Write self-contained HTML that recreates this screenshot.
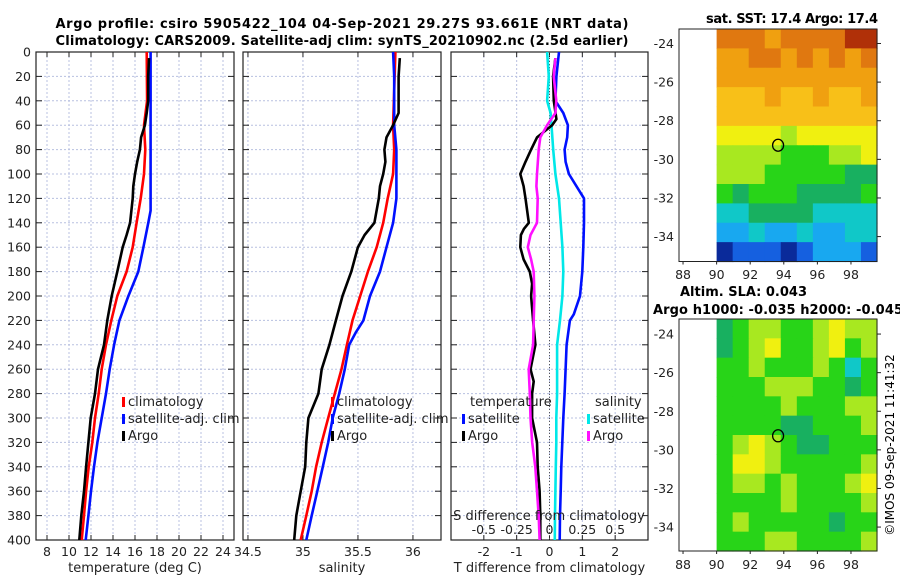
<!DOCTYPE html>
<html><head><meta charset="utf-8"><style>
html,body{margin:0;padding:0;background:#fff;}
svg{display:block;font-family:"DejaVu Sans","Liberation Sans",sans-serif;}
</style></head><body>
<svg id="fig" width="900" height="580" viewBox="0 0 900 580" xmlns="http://www.w3.org/2000/svg">
<text x="342" y="28" font-size="13" font-weight="bold" text-anchor="middle" textLength="573">Argo profile: csiro 5905422_104 04-Sep-2021 29.27S 93.661E (NRT data)</text>
<text x="342" y="45" font-size="13" font-weight="bold" text-anchor="middle" textLength="573">Climatology: CARS2009. Satellite-adj clim: synTS_20210902.nc (2.5d earlier)</text>
<text x="792" y="23" font-size="13" font-weight="bold" text-anchor="middle" textLength="172">sat. SST: 17.4 Argo: 17.4</text>
<text x="680" y="296" font-size="13" font-weight="bold" textLength="127">Altim. SLA: 0.043</text>
<text x="653" y="314" font-size="13" font-weight="bold" textLength="250">Argo h1000: -0.035 h2000: -0.045</text>
<text transform="translate(894,445) rotate(-90)" font-size="12" text-anchor="middle">©IMOS 09-Sep-2021 11:41:32</text>
</svg>
<script>
// ---------- data ----------
const depthTicks=[0,20,40,60,80,100,120,140,160,180,200,220,240,260,280,300,320,340,360,380,400];
const tempTicks=[8,10,12,14,16,18,20,22,24];
const salTicks=[34.5,35,35.5,36];
const salTickLabels=["34.5","35","35.5","36"];
const tdiffTicks=[-2,-1,0,1,2];
const sdiffTicks=[-0.5,-0.25,0,0.25,0.5];
const sdiffTickLabels=["-0.5","-0.25","0","0.25","0.5"];

const climDepth=[0,40,60,80,100,120,140,160,180,200,220,240,260,280,300,320,340,360,380,400];
const climTemp=[17.06,17.1,16.82,16.94,16.82,16.52,16.15,15.79,15.24,14.39,13.85,13.36,12.97,12.7,12.36,12.12,11.79,11.55,11.36,11.15];
const satDepth=[0,60,120,130,140,160,180,200,220,240,260,280,300,320,340,360,380,400];
const satTemp=[17.42,17.42,17.42,17.42,17.21,16.76,16.3,15.4,14.58,14.1,13.7,13.36,12.97,12.58,12.27,12.0,11.76,11.52];
const argoDepth=[5,20,40,50,60,70,80,90,100,110,120,140,150,160,180,200,220,240,260,280,300,320,340,360,380,400];
const argoTemp=[17.27,17.2,17.2,17.06,16.9,16.55,16.45,16.2,16.0,15.85,15.79,15.55,15.24,14.88,14.39,13.88,13.48,13.18,12.64,12.36,11.97,11.76,11.55,11.36,11.12,10.94];

const climSalDepth=[0,60,80,100,120,140,160,180,200,220,240,260,280,300,320,340,360,380,400];
const climSal=[35.84,35.82,35.83,35.82,35.77,35.73,35.67,35.59,35.52,35.45,35.4,35.35,35.29,35.23,35.17,35.12,35.08,35.03,34.98];
const satSalDepth=[0,20,60,80,100,120,140,160,180,200,220,230,240,260,280,300,320,340,360,380,400];
const satSal=[35.82,35.83,35.83,35.85,35.85,35.85,35.82,35.76,35.7,35.61,35.55,35.48,35.42,35.38,35.33,35.27,35.23,35.18,35.13,35.08,35.03];
const argoSalDepth=[5,20,40,50,60,70,80,90,100,110,120,140,150,160,180,200,220,240,260,280,300,320,340,360,380,400];
const argoSal=[35.88,35.87,35.87,35.87,35.82,35.76,35.74,35.75,35.73,35.7,35.69,35.65,35.56,35.5,35.44,35.36,35.3,35.24,35.17,35.14,35.05,35.03,35.02,34.98,34.94,34.92];

const dSatTDepth=[0,20,40,50,60,70,80,90,100,120,140,160,180,200,215,220,240,260,280,300,320,340,360,380,400];
const dSatT=[0.29,0.21,0.18,0.42,0.56,0.54,0.46,0.49,0.59,1.05,1.05,1.03,1.0,0.93,0.74,0.62,0.52,0.49,0.46,0.42,0.39,0.36,0.34,0.32,0.31];
const dArgoTDepth=[5,20,40,55,60,70,80,90,100,110,120,140,145,150,160,170,180,190,200,220,240,260,270,280,300,320,340,360,380,400];
const dArgoT=[0.18,0.11,0.13,0.21,0.08,-0.38,-0.56,-0.73,-0.89,-0.79,-0.73,-0.63,-0.78,-0.87,-0.89,-0.79,-0.6,-0.53,-0.56,-0.5,-0.43,-0.58,-0.48,-0.53,-0.53,-0.38,-0.36,-0.3,-0.28,-0.28];
const dSatSDepth=[0,20,40,50,60,80,100,120,140,160,180,200,220,240,260,280,300,320,340,360,380,400];
const dSatS=[-0.018,-0.005,-0.018,0.008,0.015,0.028,0.045,0.072,0.085,0.098,0.105,0.098,0.08,0.058,0.058,0.058,0.052,0.052,0.048,0.045,0.042,0.04];
const dArgoSDepth=[5,20,40,50,60,70,80,100,110,120,140,150,160,170,180,200,220,240,260,280,300,320,340,360,380,400];
const dArgoS=[0.045,0.032,0.052,0.045,-0.018,-0.07,-0.082,-0.095,-0.1,-0.09,-0.095,-0.145,-0.165,-0.14,-0.12,-0.115,-0.12,-0.125,-0.158,-0.15,-0.145,-0.132,-0.108,-0.095,-0.082,-0.075];

const lonTicks=[88,90,92,94,96,98];
const sstLatTicks=[-24,-26,-28,-30,-32,-34];
const argoLon=93.66, argoLat=-29.27;
const sstGrid=[
[10,10,10,9,10,10,10,10,11,11],
[9,9,10,10,9,10,9,10,9,10],
[9,9,9,9,9,9,9,9,9,9],
[8,8,8,9,8,8,9,8,8,9],
[8,8,8,8,8,8,8,8,8,8],
[7,7,7,7,6,7,7,7,7,7],
[6,6,6,6,5,5,5,6,6,7],
[6,6,6,5,5,5,5,5,4,4],
[5,4,5,5,5,4,4,4,4,5],
[3,3,4,4,4,4,3,3,3,3],
[2,2,3,2,2,3,2,2,3,3],
[0,1,1,1,0,1,2,2,2,1]];
const slaGrid=[
[4,5,6,6,5,5,6,7,6,6],
[4,5,6,7,5,5,6,7,5,6],
[5,5,6,5,5,5,6,5,3,5],
[5,5,5,6,6,6,5,5,4,5],
[5,5,5,5,6,5,5,5,6,6],
[5,5,5,5,4,4,5,5,5,6],
[5,6,7,6,5,4,4,5,5,5],
[5,7,7,6,5,5,5,5,5,6],
[5,6,6,5,6,5,5,5,6,7],
[5,5,5,5,6,5,5,5,5,6],
[5,6,5,5,5,5,5,4,5,5],
[5,5,5,6,6,5,5,5,5,6]];
const palette=["#0a2a9a","#1560e0","#18a8f0","#10c8c8","#18b060","#28d418","#a8e820","#f0f010","#f8c018","#f0a010","#e07810","#b03008"];

// ---------- drawing ----------
const NS="http://www.w3.org/2000/svg";
const svg=document.getElementById('fig');
function mk(tag,attrs,parent){const e=document.createElementNS(NS,tag);for(const k in attrs)e.setAttribute(k,attrs[k]);(parent||svg).appendChild(e);return e;}
const Y0=52,Y1=540;
function yD(d){return Y0+(d/400)*(Y1-Y0);}

function panel(name,x0,x1,vmin,vmax,ticks,labels,xtitle){
  const g=mk('g',{});
  
  
  const sx=v=>x0+(v-vmin)/(vmax-vmin)*(x1-x0);
  ticks.forEach((t,i)=>{
    const l=mk('line',{x1:sx(t),x2:sx(t),y1:Y0,y2:Y1,stroke:'#b8c0e0','stroke-width':1,'stroke-dasharray':'2,2'},g);
    
    
    const tk=mk('line',{x1:sx(t),x2:sx(t),y1:Y1,y2:Y1-5,stroke:'#222'},g);
    
    
    const tk2=mk('line',{x1:sx(t),x2:sx(t),y1:Y0,y2:Y0+5,stroke:'#222'},g);
    
    
    const tx=mk('text',{x:sx(t),y:556,'font-size':12.5,'text-anchor':'middle',fill:'#222'},g);
    tx.textContent=labels?labels[i]:String(t);
    
    
  });
  depthTicks.forEach(d=>{
    const l=mk('line',{x1:x0,x2:x1,y1:yD(d),y2:yD(d),stroke:'#b8c0e0','stroke-width':1,'stroke-dasharray':'2,2'},g);
    
    
    const a=mk('line',{x1:x0,x2:x0+6,y1:yD(d),y2:yD(d),stroke:'#222'},g);
    
    
    const b=mk('line',{x1:x1-6,x2:x1,y1:yD(d),y2:yD(d),stroke:'#222'},g);
    
    
  });
  const r=mk('rect',{x:x0,y:Y0,width:x1-x0,height:Y1-Y0,fill:'none',stroke:'#222','stroke-width':1.2},g);
  
  
  const t=mk('text',{x:(x0+x1)/2,y:572,'font-size':13,'text-anchor':'middle',fill:'#222'},g);
  t.textContent=xtitle;
  
  
  return {g,sx};
}
function line(p,vals,deps,color,name){
  const pts=vals.map((v,i)=>p.sx(v).toFixed(1)+','+yD(deps[i]).toFixed(1)).join(' ');
  const e=mk('polyline',{points:pts,fill:'none',stroke:color,'stroke-width':2.6,'stroke-linejoin':'round'},p.g);
  
  
}
function legend(x,y,color,label,name){
  const b=mk('rect',{x:x,y:y-9,width:3,height:10,fill:color});
  
  
  const t=mk('text',{x:x+6,y:y,'font-size':13,fill:'#222'});
  t.textContent=label;
  
  
}

// depth labels
depthTicks.forEach(d=>{
  const t=mk('text',{x:31,y:yD(d)+4.5,'font-size':12.5,'text-anchor':'end',fill:'#222'});
  t.textContent=String(d);
  
  
});

const p1=panel('temperature',36,234,7,25,tempTicks,null,'temperature (deg C)');
line(p1,climTemp,climDepth,'#ff0000','temperature-climatology-line');
line(p1,satTemp,satDepth,'#0010ff','temperature-satellite-line');
line(p1,argoTemp,argoDepth,'#000','temperature-argo-line');
legend(122,406,'#ff0000','climatology','legend-climatology');
legend(122,423,'#0010ff','satellite-adj. clim','legend-satellite');
legend(122,440,'#000','Argo','legend-argo');

const p2=panel('salinity',243,441,34.455,36.255,salTicks,salTickLabels,'salinity');
line(p2,climSal,climSalDepth,'#ff0000','salinity-climatology-line');
line(p2,satSal,satSalDepth,'#0010ff','salinity-satellite-line');
line(p2,argoSal,argoSalDepth,'#000','salinity-argo-line');
legend(331,406,'#ff0000','climatology','legend-sal-climatology');
legend(331,423,'#0010ff','satellite-adj. clim','legend-sal-satellite');
legend(331,440,'#000','Argo','legend-sal-argo');

const p3=panel('difference',451,648,-3,3,tdiffTicks,null,'T difference from climatology');
const z=mk('line',{x1:p3.sx(0),x2:p3.sx(0),y1:Y0,y2:Y1,stroke:'#555','stroke-width':1,'stroke-dasharray':'1,2'},p3.g);


const sdx=v=>p3.sx(v*4);
line(p3,dSatS.map(v=>v*4),dSatSDepth,'#00e8e8','sdiff-satellite-line');
line(p3,dSatT,dSatTDepth,'#0010ff','tdiff-satellite-line');
line(p3,dArgoT,dArgoTDepth,'#000','tdiff-argo-line');
line(p3,dArgoS.map(v=>v*4),dArgoSDepth,'#ff10ff','sdiff-argo-line');
const st=mk('text',{x:549,y:520,'font-size':13,'text-anchor':'middle',fill:'#222'});
st.textContent='S difference from climatology';


sdiffTicks.forEach((v,i)=>{
  const t=mk('text',{x:sdx(v),y:534,'font-size':12.5,'text-anchor':'middle',fill:'#222'});
  t.textContent=sdiffTickLabels[i];
  
  
});
const lh1=mk('text',{x:470,y:406,'font-size':13,fill:'#222'});lh1.textContent='temperature';


const lh2=mk('text',{x:595,y:406,'font-size':13,fill:'#222'});lh2.textContent='salinity';


legend(462,423,'#0010ff','satellite','legend-tdiff-satellite');
legend(462,440,'#000','Argo','legend-tdiff-argo');
legend(587,423,'#00e8e8','satellite','legend-sdiff-satellite');
legend(587,440,'#ff10ff','Argo','legend-sdiff-argo');

// maps
function map(name,grid,ax0,ax1,ay0,ay1,lonMin,lonMax,latMax,latMin,latTicks,labelY){
  const g=mk('g',{});
  
  
  const sx=v=>ax0+(v-lonMin)/(lonMax-lonMin)*(ax1-ax0);
  const sy=v=>ay0+(latMax-v)/(latMax-latMin)*(ay1-ay0);
  const rows=grid.length, cols=grid[0].length;
  const gx0=sx(90), cw=(ax1-gx0)/cols, ch=(ay1-ay0)/rows;
  grid.forEach((row,r)=>row.forEach((v,c)=>{
    const e=mk('rect',{x:(gx0+c*cw).toFixed(2),y:(ay0+r*ch).toFixed(2),width:(cw+0.6).toFixed(2),height:(ch+0.6).toFixed(2),fill:palette[v]},g);
    
    
  }));
  const f=mk('rect',{x:ax0,y:ay0,width:ax1-ax0,height:ay1-ay0,fill:'none',stroke:'#222','stroke-width':1},g);
  
  
  lonTicks.forEach(t=>{
    const k=mk('line',{x1:sx(t),x2:sx(t),y1:ay1,y2:ay1+3,stroke:'#222'},g);
    
    
    const tx=mk('text',{x:sx(t),y:labelY,'font-size':12.5,'text-anchor':'middle',fill:'#222'},g);
    tx.textContent=String(t);
    
    
  });
  latTicks.forEach(t=>{
    const k=mk('line',{x1:ax1,x2:ax1+4,y1:sy(t),y2:sy(t),stroke:'#222'},g);
    
    
    const tx=mk('text',{x:674,y:sy(t)+4.5,'font-size':12.5,'text-anchor':'end',fill:'#222'},g);
    tx.textContent=String(t);
    
    
  });
  const c=mk('ellipse',{cx:sx(argoLon),cy:sy(argoLat),rx:5.5,ry:6,fill:'none',stroke:'#000','stroke-width':1.3},g);
  
  
}
map('sst-map',sstGrid,679,877,29,261.5,87.76,99.55,-23.25,-35.29,sstLatTicks,279);
map('sla-map',slaGrid,679,877,319,551,87.76,99.55,-23.22,-35.24,sstLatTicks,569);
</script>
</body></html>
